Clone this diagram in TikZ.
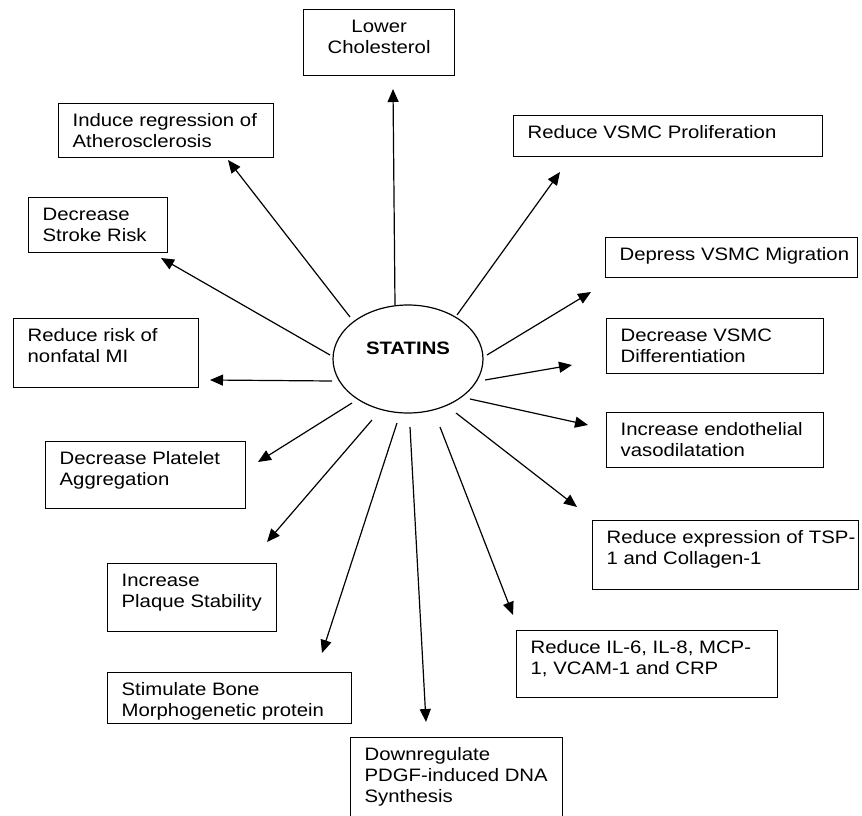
\documentclass[tikz,border=0pt]{standalone}
\usepackage{fontspec}
\setmainfont{Liberation Sans}[FakeStretch=1.13]
\usetikzlibrary{arrows.meta,shapes.geometric}
\tikzset{
  box/.style={draw, line width=1.3pt, rectangle, anchor=north west, inner xsep=0pt, inner ysep=9pt,
    font=\fontsize{18}{21}\selectfont},
  hub/.style={draw, ellipse, line width=1.2pt, minimum width=150pt, minimum height=108pt, inner sep=0pt,
    font=\fontsize{18}{20}\selectfont\bfseries, text height=10pt, text depth=19pt},
  arr/.style={line width=1.2pt, -{Triangle[length=13pt,width=11pt]}}
}
\newcommand\bx[7]{%
  \node[box] (#1) at (#2,#3) {\parbox[c][\dimexpr #5pt-18pt\relax][t]{#4pt}{#6\rule{0pt}{14pt}#7}};}
\newcommand\lft{\raggedright\leftskip=14pt\relax}
\newcommand\ctr{\centering}
\begin{document}
\begin{tikzpicture}[x=1pt,y=-1pt]
\useasboundingbox[fill=white] (0,0) rectangle (862,816);

\node[hub] (statins) at (408,359) {STATINS};

\bx{chol}{303}{9}{151}{66}{\ctr}{Lower\\Cholesterol}
\bx{prolif}{513}{115}{309}{41}{\lft}{Reduce VSMC Proliferation}
\bx{migr}{605}{237}{252}{40}{\lft}{Depress VSMC Migration}
\bx{diff}{606}{318}{217}{55}{\lft}{Decrease VSMC\\Differentiation}
\bx{endo}{606}{412}{217}{55}{\lft}{Increase endothelial\\vasodilatation}
\bx{tsp}{592}{520}{266}{69}{\lft}{Reduce expression of TSP-\\1 and Collagen-1}
\bx{il}{516}{630}{261}{67}{\lft}{Reduce IL-6, IL-8, MCP-\\1, VCAM-1 and CRP}
\bx{pdgf}{350}{737}{212}{82}{\lft}{Downregulate\\PDGF-induced DNA\\Synthesis}
\bx{bone}{107}{672}{244}{51}{\lft}{Stimulate Bone\\Morphogenetic protein}
\bx{plaque}{107}{563}{169}{68}{\lft}{Increase\\Plaque Stability}
\bx{plat}{45}{441}{200}{67}{\lft}{Decrease Platelet\\Aggregation}
\bx{mi}{13}{318}{185}{69}{\lft}{Reduce risk of\\nonfatal MI}
\bx{stroke}{28}{197}{139}{55}{\lft}{Decrease\\Stroke Risk}
\bx{athero}{58}{103}{215}{54}{\lft}{Induce regression of\\Atherosclerosis}

% start points on the ellipse and free arrow tips
\coordinate (s1) at (395,305);  \coordinate (t1) at (393,89);
\coordinate (s2) at (457,315);  \coordinate (t2) at (560,172);
\coordinate (s3) at (487,355);  \coordinate (t3) at (591,292);
\coordinate (s4) at (485,380);  \coordinate (t4) at (572,365);
\coordinate (s5) at (470,399);  \coordinate (t5) at (588,425);
\coordinate (s6) at (456,413);  \coordinate (t6) at (577,507);
\coordinate (s7) at (440,427);  \coordinate (t7) at (513,615);
\coordinate (s8) at (410,427);  \coordinate (t8) at (426,722);
\coordinate (s9) at (397,423);  \coordinate (t9) at (322,653);
\coordinate (s10) at (372,420); \coordinate (t10) at (267,542);
\coordinate (s11) at (352,403); \coordinate (t11) at (258,462);
\coordinate (s12) at (332,381); \coordinate (t12) at (210,380);
\coordinate (s13) at (330,355); \coordinate (t13) at (161,258);
\coordinate (s14) at (350,317); \coordinate (t14) at (228,160);

\foreach \i in {1,...,14} { \draw[arr] (s\i) -- (t\i); }
\end{tikzpicture}
\end{document}
